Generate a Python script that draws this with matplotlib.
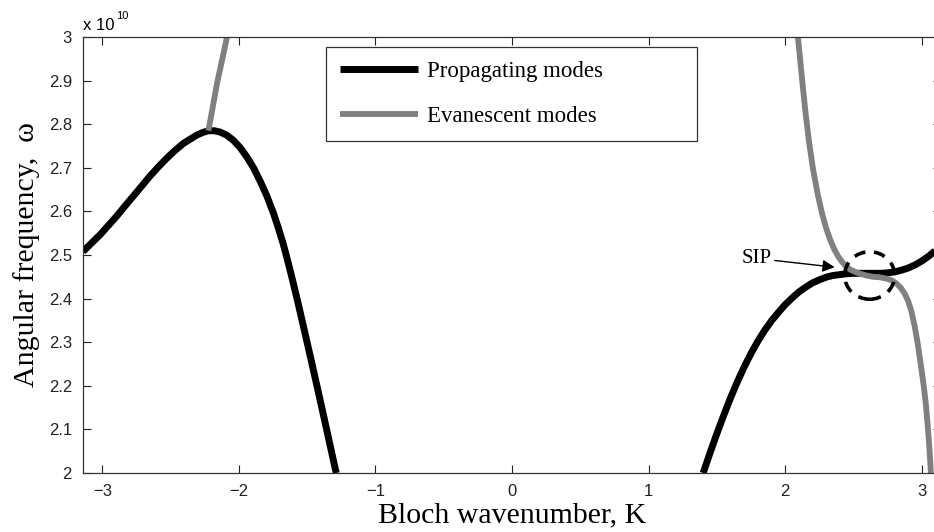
import numpy as np
import matplotlib
matplotlib.use("Agg")
import matplotlib.pyplot as plt
from matplotlib.patches import Ellipse
from matplotlib.ticker import FuncFormatter

SCALE = 1e10

# Propagating modes (black) - left band
k_prop_left = [-3.1416, -3.08, -3.015, -2.955, -2.895, -2.835, -2.773, -2.712, -2.651,
               -2.590, -2.528, -2.467, -2.406, -2.355, -2.308, -2.265, -2.223, -2.180,
               -2.138, -2.090, -2.040, -1.990, -1.942, -1.893, -1.845, -1.796, -1.747,
               -1.711, -1.675, -1.642, -1.609, -1.572, -1.536, -1.500, -1.463, -1.427,
               -1.390, -1.357, -1.324, -1.303, -1.287]
w_prop_left = [2.508, 2.527, 2.547, 2.568, 2.589, 2.612, 2.635, 2.658, 2.681,
               2.702, 2.722, 2.740, 2.756, 2.766, 2.775, 2.781, 2.785, 2.785,
               2.782, 2.775, 2.763, 2.746, 2.725, 2.700, 2.670, 2.636, 2.596,
               2.562, 2.525, 2.486, 2.445, 2.397, 2.348, 2.299, 2.248, 2.198,
               2.146, 2.099, 2.052, 2.022, 2.000]

# Propagating modes (black) - right band
k_prop_right = [1.40, 1.45, 1.50, 1.55, 1.60, 1.65, 1.70, 1.75, 1.80, 1.85, 1.90, 1.95,
                2.00, 2.05, 2.10, 2.15, 2.20, 2.25, 2.30, 2.35, 2.40, 2.45, 2.50, 2.55,
                2.60, 2.65, 2.70, 2.75, 2.80, 2.85, 2.90, 2.95, 3.00, 3.05, 3.10, 3.1416]
w_prop_right = [2.000, 2.046, 2.090, 2.132, 2.172, 2.209, 2.243, 2.274, 2.302, 2.327,
                2.349, 2.368, 2.386, 2.401, 2.415, 2.426, 2.436, 2.443, 2.449, 2.453,
                2.455, 2.457, 2.458, 2.458, 2.458, 2.458, 2.458, 2.459, 2.461, 2.465,
                2.470, 2.477, 2.486, 2.497, 2.510, 2.522]

# Evanescent modes (gray) - left branch
k_evan_left = [-2.223, -2.190, -2.160, -2.123, -2.087]
w_evan_left = [2.785, 2.842, 2.894, 2.947, 3.000]

# Evanescent modes (gray) - right branch
k_evan_right = [2.094, 2.112, 2.131, 2.151, 2.175, 2.204, 2.241, 2.270, 2.300, 2.330,
                2.360, 2.390, 2.420, 2.450, 2.480, 2.515, 2.550, 2.595, 2.643, 2.692,
                2.741, 2.780, 2.814, 2.846, 2.875, 2.900, 2.924, 2.950, 2.972, 2.993,
                3.013, 3.030, 3.044, 3.056, 3.066, 3.068]
w_evan_right = [3.000, 2.942, 2.882, 2.822, 2.760, 2.698, 2.636, 2.596, 2.562, 2.535,
                2.513, 2.496, 2.483, 2.473, 2.466, 2.461, 2.457, 2.453, 2.450, 2.449,
                2.446, 2.442, 2.435, 2.425, 2.412, 2.395, 2.372, 2.335, 2.295, 2.250,
                2.205, 2.160, 2.110, 2.060, 2.010, 2.000]

# SIP marker
sip_k, sip_w = 2.619, 2.453
sip_text_k, sip_text_w = 1.683, 2.492
sip_arrow_k, sip_arrow_w = 2.363, 2.472

x_ticks = [-3, -2, -1, 0, 1, 2, 3]
y_ticks = [2.0, 2.1, 2.2, 2.3, 2.4, 2.5, 2.6, 2.7, 2.8, 2.9, 3.0]

BLACK = "#000000"
GRAY = "#808080"
SERIF = ["Liberation Serif", "DejaVu Serif"]
SANS = ["Liberation Sans", "DejaVu Sans"]

fig = plt.figure(figsize=(9.34, 5.32), dpi=100)
W, H = 934, 532
ax = fig.add_axes([83 / W, 1 - 473 / H, 858 / W, 436 / H])

sc = lambda v: np.array(v) * SCALE
line_kw = dict(solid_capstyle="butt", solid_joinstyle="round")

ax.plot(k_prop_left, sc(w_prop_left), color=BLACK, lw=5, label="Propagating modes", **line_kw)
ax.plot(k_prop_right, sc(w_prop_right), color=BLACK, lw=5, **line_kw)
ax.plot(k_evan_left, sc(w_evan_left), color=GRAY, lw=4.2, label="Evanescent modes", **line_kw)
ax.plot(k_evan_right, sc(w_evan_right), color=GRAY, lw=4.2, **line_kw)

ell = Ellipse((sip_k, sip_w * SCALE), width=0.366, height=0.109 * SCALE, fill=False,
              edgecolor=BLACK, lw=2.6, linestyle=(0, (3.2, 2.4)), zorder=5)
ax.add_patch(ell)

ax.annotate("SIP", xy=(sip_arrow_k, sip_arrow_w * SCALE),
            xytext=(sip_text_k, sip_text_w * SCALE),
            fontsize=15, family=SERIF, ha="left", va="center",
            arrowprops=dict(arrowstyle="-|>", color=BLACK, lw=1.0,
                            mutation_scale=18, shrinkA=0, shrinkB=0))

ax.set_xlim(-np.pi, np.pi)
ax.set_ylim(2.0 * SCALE, 3.0 * SCALE)
ax.set_xticks(x_ticks)
ax.set_yticks([y * SCALE for y in y_ticks])
ax.yaxis.set_major_formatter(FuncFormatter(lambda v, p: f"{v / SCALE:g}"))
ax.xaxis.set_major_formatter(FuncFormatter(lambda v, p: f"{v:g}".replace("-", "\u2212")))

ax.tick_params(direction="in", length=6, width=0.8, top=True, right=True,
               labelsize=12, pad=8, colors="#222222")
for lab in ax.get_xticklabels() + ax.get_yticklabels():
    lab.set_family(SANS)
for s in ax.spines.values():
    s.set_linewidth(0.9)
    s.set_color("#333333")

ax.set_xlabel("Bloch wavenumber, K", fontsize=21.5, family=SERIF)
ax.set_ylabel("Angular frequency,  \u03c9", fontsize=21.5, family=SERIF)
ax.xaxis.set_label_coords(0.5, -0.068)
ax.yaxis.set_label_coords(-0.05, 0.5)

fig.text(83 / W, 1 - 25 / H, "x 10", fontsize=12, family=SANS, ha="left", va="center")
fig.text(116 / W, 1 - 16 / H, "10", fontsize=8, family=SANS, ha="left", va="center")

leg = ax.legend(loc="upper left", bbox_to_anchor=(0.2832, 0.761, 0.4324, 0.216),
                mode="expand", borderaxespad=0, prop={"family": SERIF, "size": 16.5},
                handlelength=3.4, handletextpad=0.4, labelspacing=1.02,
                borderpad=0.62, fancybox=False, framealpha=1, edgecolor="#333333")
leg.get_frame().set_linewidth(0.9)

fig.savefig("out.png", dpi=100)
